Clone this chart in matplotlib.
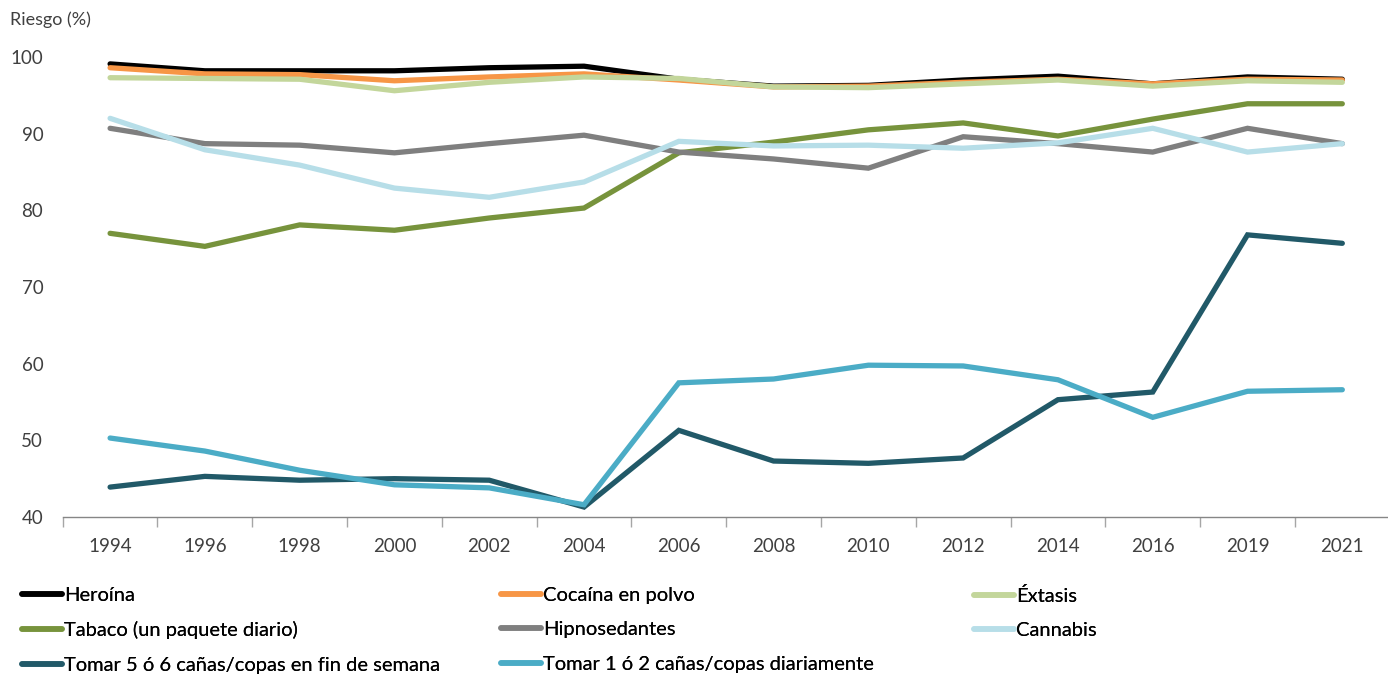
import matplotlib
matplotlib.use("Agg")
import matplotlib.pyplot as plt

plt.rcParams['font.family'] = ['Lato', 'DejaVu Sans']

years = ["1994", "1996", "1998", "2000", "2002", "2004", "2006",
         "2008", "2010", "2012", "2014", "2016", "2019", "2021"]

heroina = [99.1, 98.2, 98.2, 98.2, 98.6, 98.8, 97.1, 96.2, 96.3, 97.0, 97.5, 96.5, 97.4, 97.1]
cocaina = [98.6, 97.8, 97.7, 96.9, 97.4, 97.8, 97.0, 96.1, 96.2, 96.7, 97.1, 96.5, 97.1, 97.0]
extasis = [97.3, 97.2, 97.1, 95.6, 96.7, 97.4, 97.2, 96.1, 96.0, 96.5, 97.0, 96.2, 96.9, 96.7]
tabaco = [77.0, 75.3, 78.1, 77.4, 79.0, 80.3, 87.5, 88.9, 90.5, 91.4, 89.7, 91.9, 93.9, 93.9]
hipnosedantes = [90.7, 88.7, 88.5, 87.5, 88.7, 89.8, 87.6, 86.7, 85.5, 89.6, 88.7, 87.6, 90.7, 88.7]
cannabis = [92.0, 87.9, 85.9, 82.9, 81.7, 83.7, 89.0, 88.4, 88.5, 88.1, 88.8, 90.7, 87.6, 88.7]
canas_finde = [43.9, 45.3, 44.8, 45.0, 44.8, 41.3, 51.3, 47.3, 47.0, 47.7, 55.3, 56.3, 76.8, 75.7]
canas_diario = [50.3, 48.6, 46.1, 44.2, 43.8, 41.6, 57.5, 58.0, 59.8, 59.7, 57.9, 53.0, 56.4, 56.6]

series = [
    ("Heroína", heroina, "#000000"),
    ("Cocaína en polvo", cocaina, "#F79646"),
    ("Éxtasis", extasis, "#C3D69B"),
    ("Tabaco (un paquete diario)", tabaco, "#77933C"),
    ("Hipnosedantes", hipnosedantes, "#7F7F7F"),
    ("Cannabis", cannabis, "#B7DEE8"),
    ("Tomar 5 ó 6 cañas/copas en fin de semana", canas_finde, "#215968"),
    ("Tomar 1 ó 2 cañas/copas diariamente", canas_diario, "#4BACC6"),
]

fig = plt.figure(figsize=(13.88, 6.75), dpi=100)
ax = fig.add_axes([62.7 / 1388, 1 - 517 / 675, 1327 / 1388, 460 / 675])

x = range(len(years))
handles = []
for label, vals, color in series:
    ln, = ax.plot(x, vals, color=color, lw=3.8, solid_capstyle='round',
                  solid_joinstyle='miter', label=label)
    handles.append(ln)

ax.set_xlim(-0.5, len(years) - 0.5)
ax.set_ylim(40, 100)
ax.set_yticks([40, 50, 60, 70, 80, 90, 100])
ax.set_xticks(list(x))
ax.set_xticklabels(years)
ax.set_xticks([i + 0.5 for i in range(-1, len(years))], minor=True)

for s in ["top", "right", "left"]:
    ax.spines[s].set_visible(False)
ax.spines["bottom"].set_color("#868686")
ax.spines["bottom"].set_linewidth(1.0)
ax.tick_params(axis="x", which="major", length=0, pad=15, labelsize=13.5, labelcolor="#404040")
ax.tick_params(axis="x", which="minor", length=7, color="#A6A6A6", width=1)
ax.tick_params(axis="y", length=0, pad=14, labelsize=13.5, labelcolor="#404040")

fig.text(10 / 1388, 1 - 20 / 675, "Riesgo (%)", fontsize=13, color="#404040",
         va="center", ha="left")

# legend in three columns, row order like the source
col_x = [14 / 1388, 493 / 1388, 966 / 1388]
for c in range(3):
    hs = handles[c::3]
    leg = fig.legend(handles=hs, labels=[h.get_label() for h in hs],
                     loc="upper left", bbox_to_anchor=(col_x[c], 1 - 579 / 675),
                     frameon=False, fontsize=14.5, handlelength=2.0,
                     handletextpad=0.1, labelspacing=0.85, borderaxespad=0,
                     labelcolor="#000000")
    for lh in leg.get_lines():
        lh.set_linewidth(4)
    fig.add_artist(leg)

fig.savefig("out.png", dpi=100)
